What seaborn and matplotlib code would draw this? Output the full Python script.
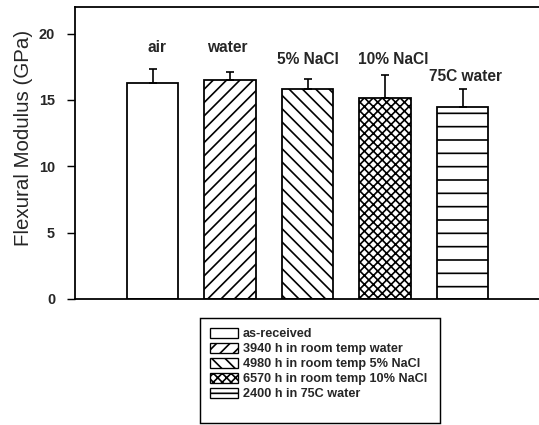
import matplotlib
matplotlib.use("Agg")
import matplotlib.pyplot as plt
import seaborn as sns
import pandas as pd
import matplotlib.patches as mpatches

# Flexural modulus after conditioning
conditions = ["air", "water", "5% NaCl", "10% NaCl", "75C water"]
modulus = [16.3, 16.5, 15.85, 15.15, 14.5]
modulus_err = [1.0, 0.6, 0.7, 1.7, 1.3]
legend_labels = [
    "as-received",
    "3940 h in room temp water",
    "4980 h in room temp 5% NaCl",
    "6570 h in room temp 10% NaCl",
    "2400 h in 75C water",
]
y_ticks = [0, 5, 10, 15, 20]

hatches = ["", "//", "\\\\", "xxx", "-"]

sns.set_theme(style="ticks")
plt.rcParams["font.family"] = ["Liberation Sans", "DejaVu Sans"]
plt.rcParams["hatch.linewidth"] = 1.5
plt.rcParams["hatch.color"] = "black"

DPI = 80
W, H = 539, 425
fig = plt.figure(figsize=(W / DPI, H / DPI), dpi=DPI)
ax = fig.add_axes([75 / W, 1 - 299 / H, 465 / W, 292 / H])

df = pd.DataFrame({"condition": conditions, "modulus": modulus})
sns.barplot(data=df, x="condition", y="modulus", order=conditions,
            color="white", edgecolor="black", linewidth=1.6,
            width=0.66, errorbar=None, ax=ax, saturation=1)

for patch, h in zip(ax.patches, hatches):
    patch.set_hatch(h)
    patch.set_facecolor("white")

# upper error bars only
xpos = list(range(len(conditions)))
ax.errorbar(xpos, modulus, yerr=[[0] * len(modulus_err), modulus_err],
            fmt="none", ecolor="black", elinewidth=1.5, capsize=3.5,
            capthick=1.5, zorder=3)

# condition labels above the bars
label_dx = [0.06, -0.03, 0.01, 0.11, 0.04]
label_y = [18.6, 18.6, 17.7, 17.7, 16.45]
for i, (name, dx, yy) in enumerate(zip(conditions, label_dx, label_y)):
    ax.text(i + dx, yy, name, ha="center", va="baseline",
            fontsize=14, fontweight="bold")

ax.set_xlim(-1.0, 5.0)
ax.set_ylim(0, 22)
ax.set_yticks(y_ticks)
ax.set_yticklabels([str(t) for t in y_ticks], fontsize=13, fontweight="bold")
ax.set_xticks([])
ax.set_xlabel("")
ax.set_ylabel("Flexural Modulus (GPa)", fontsize=18.5)
ax.yaxis.set_label_coords(-(75 - 33) / 465, (299 - 138) / 292)
ax.tick_params(axis="y", direction="out", length=7, width=1.3, pad=11,
               color="black")

for side in ["left", "bottom", "top"]:
    ax.spines[side].set_visible(True)
    ax.spines[side].set_linewidth(1.6)
    ax.spines[side].set_color("black")
ax.spines["right"].set_visible(False)

# legend entries with a separately drawn box around them
handles = [mpatches.Patch(facecolor="white", edgecolor="black",
                          linewidth=1.2, hatch=h) for h in hatches]
leg = fig.legend(handles, legend_labels, loc="upper left",
                 bbox_to_anchor=(210 / W, 1 - 328 / H),
                 bbox_transform=fig.transFigure,
                 prop={"family": "Liberation Sans", "weight": "bold", "size": 11.4},
                 frameon=False,
                 handlelength=2.2, handleheight=0.8, handletextpad=0.4,
                 labelspacing=0.22, borderpad=0, borderaxespad=0)
box = mpatches.Rectangle((200 / W, 1 - 423 / H), 240 / W, 105 / H,
                         transform=fig.transFigure, facecolor="none",
                         edgecolor="black", linewidth=1.3)
fig.add_artist(box)

fig.savefig("out.png", dpi=DPI, facecolor="white")
